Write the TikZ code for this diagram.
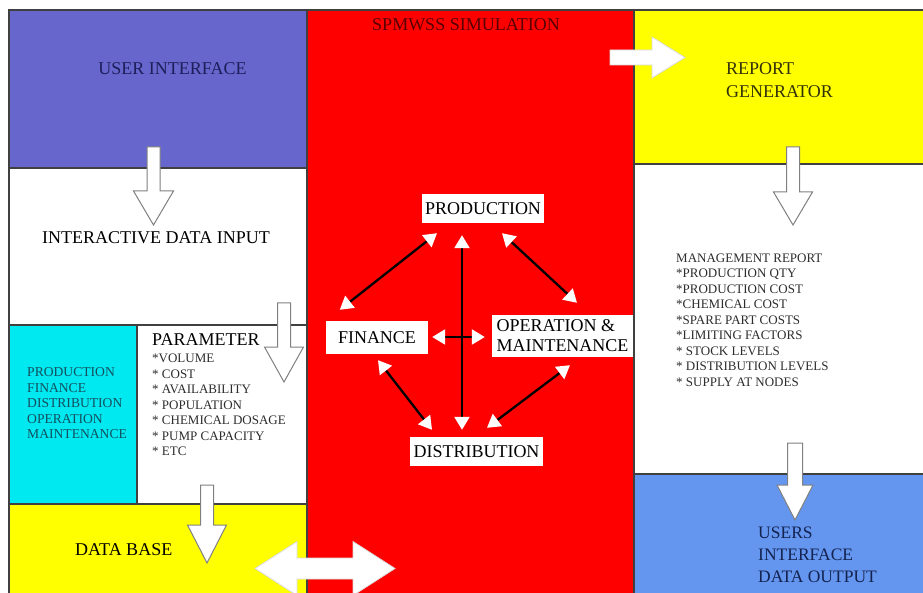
\documentclass[tikz,border=0pt]{standalone}
\usepackage{fontspec}
\setmainfont{Liberation Serif}
\usetikzlibrary{arrows.meta,calc}
\definecolor{uiblue}{RGB}{102,102,204}
\definecolor{simred}{RGB}{255,0,0}
\definecolor{yel}{RGB}{255,255,0}
\definecolor{cyanbox}{RGB}{0,232,240}
\definecolor{outblue}{RGB}{100,150,240}
\definecolor{navytext}{RGB}{30,30,90}
\definecolor{navytext2}{RGB}{20,35,80}
\definecolor{redtext}{RGB}{90,0,0}
\definecolor{olivetext}{RGB}{50,50,10}
\definecolor{teallabel}{RGB}{20,80,95}
\definecolor{graytext}{RGB}{45,45,45}
\newcommand\blkdown[6]{%
  \draw[blockarrow] ({#1-#5},#2) -- ({#1+#5},#2) -- ({#1+#5},#3) -- ({#1+#6},#3)
    -- (#1,#4) -- ({#1-#6},#3) -- ({#1-#5},#3) -- cycle;}
\begin{document}
\begin{tikzpicture}[x=1pt,y=-1pt,
  region/.style={draw=black!75, line width=1.2pt},
  blockarrow/.style={draw=black!50, fill=white, line width=1pt},
  blockarrowlight/.style={draw=black!15, fill=white, line width=0.8pt},
  bigtext/.style={inner sep=0pt, font=\fontsize{18}{23}\selectfont},
  smalltext/.style={inner sep=0pt, align=left, anchor=west, font=\fontsize{13}{15.5}\selectfont},
  cbox/.style={fill=white, inner sep=0pt, font=\fontsize{18}{20}\selectfont},
  dbl/.style={line width=2.3pt, draw=black,
    {Triangle[length=13pt,width=15pt,color=white]}-{Triangle[length=13pt,width=15pt,color=white]}}]
\clip (0,0) rectangle (923,593);
\fill[white] (0,0) rectangle (923,593);
% regions
\path[region, fill=uiblue] (9,10) rectangle (307,168);
\path[region, fill=white] (9,168) rectangle (307,325);
\path[region, fill=cyanbox] (9,325) rectangle (137,504);
\path[region, fill=white] (137,325) rectangle (307,504);
\path[region, fill=yel] (9,504) rectangle (307,600);
\path[region, fill=simred] (307,10) rectangle (634,600);
\path[region, fill=yel] (634,10) rectangle (930,164);
\path[region, fill=white] (634,164) rectangle (930,474);
\path[region, fill=outblue] (634,474) rectangle (930,600);
% block arrows
\blkdown{153.5}{147}{191}{225}{6.5}{20}
\blkdown{284}{303}{347}{382}{6.5}{19.5}
\blkdown{207}{485}{525}{563}{6.5}{19.5}
\blkdown{793}{147}{192}{225}{6.5}{19.5}
\blkdown{795}{443}{485}{520}{7.5}{18}
\draw[blockarrowlight] (610,50) -- (652,50) -- (652,37) -- (685,57.5) -- (652,78) -- (652,65) -- (610,65) -- cycle;
\draw[blockarrowlight] (255,568.5) -- (297,541.5) -- (297,558) -- (353,558) -- (353,541.5) -- (395,568.5)
  -- (353,595.5) -- (353,579) -- (297,579) -- (297,595.5) -- cycle;
% texts
\node[bigtext, text=navytext] (ui) at (172.5,69) {USER INTERFACE};
\node[bigtext, text=redtext] (sim) at (466,25) {SPMWSS SIMULATION};
\node[bigtext, text=olivetext, align=left, anchor=west] (rg) at (726,80) {REPORT\\GENERATOR};
\node[bigtext] (idi) at (156,238) {INTERACTIVE DATA INPUT};
\node[bigtext, anchor=west] (par) at (152,340) {PARAMETER};
\node[smalltext, text=graytext] (parl) at (152,405) {*VOLUME\\* COST\\* AVAILABILITY\\* POPULATION\\* CHEMICAL DOSAGE\\* PUMP CAPACITY\\* ETC};
\node[smalltext, text=teallabel, font=\fontsize{13.6}{15.5}\selectfont] (cyl) at (27,403.5) {PRODUCTION\\FINANCE\\DISTRIBUTION\\OPERATION\\MAINTENANCE};
\node[bigtext, anchor=west] (db) at (75,550) {DATA BASE};
\node[smalltext, text=graytext] (mr) at (676,320) {MANAGEMENT REPORT\\*PRODUCTION QTY\\*PRODUCTION COST\\*CHEMICAL COST\\*SPARE PART COSTS\\*LIMITING FACTORS\\* STOCK LEVELS\\* DISTRIBUTION LEVELS\\* SUPPLY AT NODES};
\node[bigtext, text=navytext2, align=left, anchor=west, font=\fontsize{17.5}{22}\selectfont] (uo) at (758,554.5) {USERS\\INTERFACE\\DATA OUTPUT};
% central diagram
\node[cbox, minimum width=122pt, minimum height=29pt] (prod) at (483,208.5) {PRODUCTION};
\node[cbox, minimum width=102pt, minimum height=33pt] (fin) at (377,337.5) {FINANCE};
\node[cbox, minimum width=141pt, minimum height=42pt, align=left] (om) at (562.5,336) {OPERATION \&\\MAINTENANCE};
\node[cbox, minimum width=133pt, minimum height=29pt] (dist) at (476.5,451.5) {DISTRIBUTION};
\draw[dbl] ($(fin.north west)+(14,-11)$) -- ($(prod.south)+(-46,10)$);
\draw[dbl] ($(prod.south)+(19,10)$) -- ($(om.north)+(14.5,-12)$);
\draw[dbl] ($(prod.south)+(-21,12)$) -- ($(dist.north)+(-14.5,-7)$);
\draw[dbl] ($(fin.east)+(4,-0.5)$) -- ($(om.west)+(-7,1)$);
\draw[dbl] ($(fin.south)+(1,6)$) -- ($(dist.north)+(-44.5,-7)$);
\draw[dbl] ($(om.south)+(7.5,8)$) -- ($(dist.north)+(10.5,-9)$);
\end{tikzpicture}
\end{document}
